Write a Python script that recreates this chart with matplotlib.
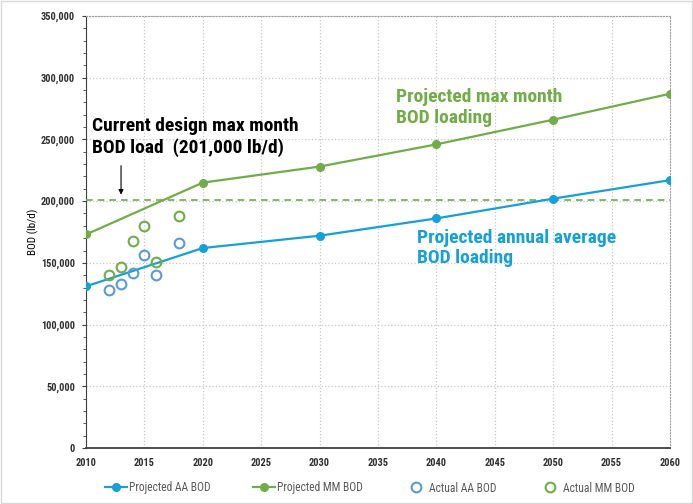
import numpy as np
import matplotlib.pyplot as plt
from matplotlib.ticker import MultipleLocator, FuncFormatter

# dados
anos_proj = [2010, 2020, 2030, 2040, 2050, 2060]
aa_proj = [131000, 162000, 172000, 186000, 202000, 217000]
mm_proj = [173000, 215000, 228000, 246000, 266000, 287000]

anos_real = [2012, 2013, 2014, 2015, 2016, 2018]
aa_real = [128000, 133000, 142000, 156000, 140000, 166000]
mm_real = [140000, 147000, 168000, 180000, 151000, 188000]

design = 201000

verde = '#70AD47'
azul = '#15A0D8'
azul2 = '#5B9BD5'

plt.rcParams['font.family'] = ['DejaVu Sans Condensed', 'Roboto Condensed', 'Liberation Sans Narrow',
                               'Liberation Sans', 'DejaVu Sans']

fig = plt.figure(figsize=(6.93, 5.04), dpi=100)
ax = fig.add_axes([86/693, 56/504, 584/693, 432/504])

ax.plot(anos_proj, aa_proj, '-o', color=azul, lw=1.6, ms=5.5, label='Projected AA BOD', zorder=4)
ax.plot(anos_proj, mm_proj, '-o', color=verde, lw=1.6, ms=5.5, label='Projected MM BOD', zorder=4)
ax.plot(anos_real, aa_real, 'o', mfc='none', mec=azul2, mew=1.5, ms=7, label='Actual AA BOD', zorder=4)
ax.plot(anos_real, mm_real, 'o', mfc='none', mec=verde, mew=1.5, ms=7, label='Actual MM BOD', zorder=4)
ax.axhline(design, color=verde, ls=(0, (4, 3)), lw=1.2, zorder=3)

ax.set_xlim(2010, 2060)
ax.set_ylim(0, 350000)
ax.xaxis.set_major_locator(MultipleLocator(5))
ax.yaxis.set_major_locator(MultipleLocator(50000))
ax.yaxis.set_minor_locator(MultipleLocator(10000))
ax.yaxis.set_major_formatter(FuncFormatter(lambda v, p: f'{int(v):,}'))
ax.grid(True, color='#c8c8c8', ls=':', lw=0.9)
ax.set_axisbelow(True)

for s in ['top', 'right']:
    ax.spines[s].set_color('#a0a0a0')
    ax.spines[s].set_linestyle(':')
ax.spines['left'].set_color('#404040')
ax.spines['bottom'].set_color('#404040')
ax.spines['bottom'].set_linewidth(1.3)
ax.tick_params(axis='both', which='major', labelsize=7.5, length=3, color='#404040', pad=5)
ax.tick_params(axis='x', length=0, pad=7)
ax.tick_params(axis='y', which='minor', length=2, color='#404040')
for t in ax.get_xticklabels() + ax.get_yticklabels():
    t.set_fontweight('bold')
    t.set_color('#303030')
ax.set_ylabel('BOD (lb/d)', fontsize=8, labelpad=1)

ax.text(2010.5, 252000, 'Current design max month\nBOD load  (201,000 lb/d)', fontsize=14,
        fontweight='bold', color='black', va='center', linespacing=1.2)
ax.annotate('', xy=(2013, 203000), xytext=(2013, 231000),
            arrowprops=dict(arrowstyle='-|>', color='black', lw=0.8, mutation_scale=7))
ax.text(2036.5, 276000, 'Projected max month\nBOD loading', fontsize=14, fontweight='bold',
        color=verde, va='center', linespacing=1.2)
ax.text(2038.3, 162000, 'Projected annual average\nBOD loading', fontsize=14, fontweight='bold',
        color=azul, va='center', linespacing=1.2)

leg = fig.legend(loc='center', bbox_to_anchor=(370/693, 16/504), ncol=4, frameon=False,
                 fontsize=8.3, columnspacing=3.7, handlelength=1.9, handletextpad=0.15)
for t in leg.get_texts():
    t.set_color('#595959')

fig.patches.append(plt.Rectangle((0.002, 0.002), 0.996, 0.996, transform=fig.transFigure,
                                 fill=False, edgecolor='#d9d9d9', lw=1))

fig.savefig('out.png', dpi=100)
